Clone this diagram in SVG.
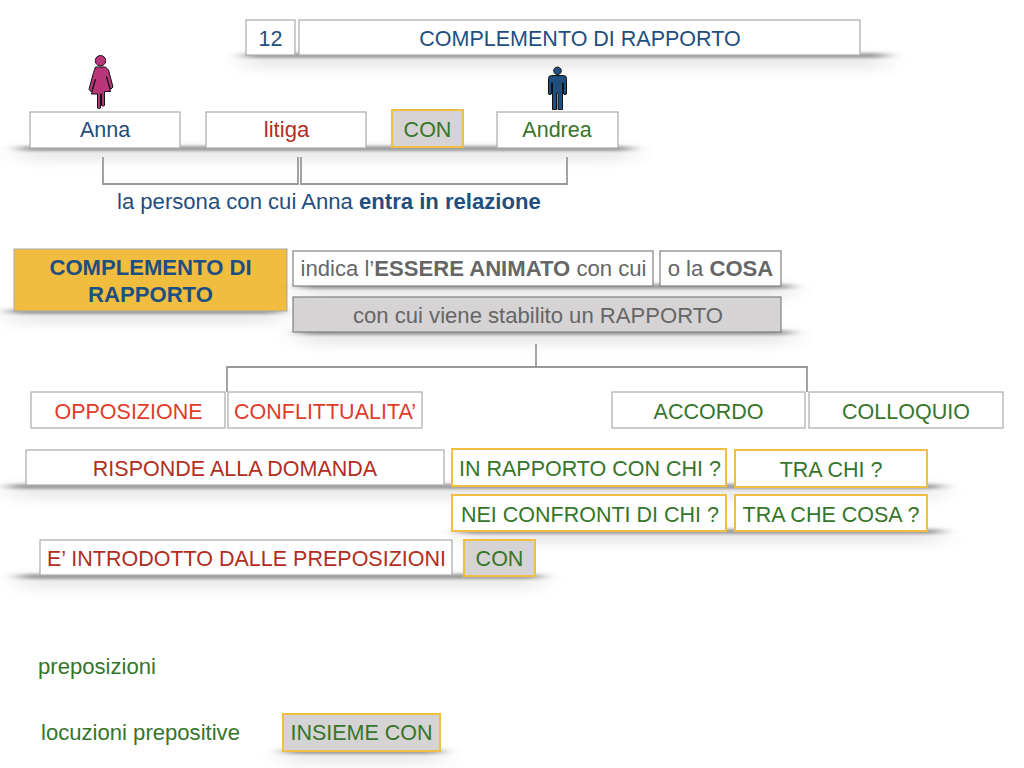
<svg xmlns="http://www.w3.org/2000/svg" width="1024" height="768" viewBox="0 0 1024 768">
<style>
text{font-family:"Liberation Sans",Arial,sans-serif;font-size:21.5px;text-anchor:middle}
.l{text-anchor:start}
.lc{font-size:22.100px}
.blue{fill:#1f4e80}.red{fill:#b32d1e}.ora{fill:#e23b2a}.grn{fill:#36752a}.gry{fill:#666}
.box{fill:#fff;stroke:#ababab;stroke-width:1.2}
.dk{fill:#fff;stroke:#808080;stroke-width:1.2}
.yel{fill:#fff;stroke:#f0bd45;stroke-width:2}
.yg{fill:#d5d3d4;stroke:#f0bd45;stroke-width:2}
.sh{fill:#444;opacity:.5;filter:url(#b)}
.sh2{fill:#666;opacity:.16;filter:url(#c)}
.con{fill:none;stroke:#999;stroke-width:1.8}
</style>
<defs>
<filter id="b" x="-20%" y="-300%" width="140%" height="700%"><feGaussianBlur stdDeviation="9 1.800"/></filter>
<filter id="c" x="-20%" y="-600%" width="140%" height="1300%"><feGaussianBlur stdDeviation="14 6"/></filter>
</defs>
<rect width="1024" height="768" fill="#fff"/>
<g id="shadows">
<rect class="sh2" x="245" y="56" width="640" height="12"/>
<rect class="sh" x="245" y="53" width="640" height="5"/>
<rect class="sh2" x="20" y="148" width="610" height="12"/>
<rect class="sh" x="20" y="146" width="610" height="5"/>
<rect class="sh2" x="10" y="311" width="270" height="12"/>
<rect class="sh" x="10" y="309" width="270" height="5"/>
<rect class="sh2" x="300" y="332" width="490" height="12"/>
<rect class="sh" x="300" y="330" width="490" height="5"/>
<rect class="sh2" x="10" y="486" width="930" height="12"/>
<rect class="sh" x="10" y="484" width="930" height="5"/>
<rect class="sh2" x="460" y="531" width="480" height="12"/>
<rect class="sh" x="460" y="529" width="480" height="5"/>
<rect class="sh2" x="20" y="576" width="520" height="12"/>
<rect class="sh" x="20" y="574" width="520" height="5"/>
<rect class="sh2" x="285" y="751" width="155" height="12"/>
<rect class="sh" x="285" y="749" width="155" height="5"/>
</g>
<g id="connectors">
<path class="con" d="M103 157V184H298V157"/>
<path class="con" d="M301 157V184H567V157"/>
<path class="con" d="M536 344V367"/>
<path class="con" d="M227 392V367H807V392"/>
</g>
<g id="n-num"><rect class="box" x="246" y="20" width="49" height="35"/><text class="blue" x="270.500" y="46">12</text></g>
<g id="n-title"><rect class="box" x="299" y="20" width="561" height="35"/><text class="blue" x="580" y="46">COMPLEMENTO DI RAPPORTO</text></g>
<g id="n-woman"><path fill="#b93478" stroke="#111" stroke-width="1" d="M100.500 55.500a5.200 5.200 0 1 1-.01 0ZM95.500 67h10l3 3 4.500 17-2.500 2.500-4-13 4 15h-6v14q-1.500 1-3 0V94h-1v14q-1.500 1-3 0V94h-6l4-15-4 13-2.500-2.500 4.500-17Z"/></g>
<g id="n-man"><path fill="#1f4e80" stroke="#111" stroke-width="1" d="M557.500 67a3.800 3.800 0 1 1-.01 0ZM551.500 75.500h12q3 0 3 3V94q-1.500 1.500-3 0V83h-1v26.500h-4.500V93h-1.500v16.500H552.500V83h-1v11q-1.500 1.500-3 0V78.500q0-3 3-3Z"/></g>
<g id="n-anna"><rect class="box" x="30" y="112" width="150" height="36"/><text class="blue" x="105" y="137">Anna</text></g>
<g id="n-litiga"><rect class="box" x="206" y="112" width="160" height="36"/><text class="red lc" x="286.500" y="137">litiga</text></g>
<g id="n-con1"><rect class="yg" x="392" y="110" width="71" height="37"/><text class="grn" x="427.500" y="137">CON</text></g>
<g id="n-andrea"><rect class="box" x="497" y="112" width="121" height="36"/><text class="grn" x="557" y="137">Andrea</text></g>
<g id="n-desc"><text class="blue l lc" x="117" y="209">la persona con cui Anna <tspan font-weight="bold">entra in relazione</tspan></text></g>
<g id="n-compl"><rect x="14" y="249" width="273" height="62" fill="#f0bd3e" stroke="#a9a9a9"/><text class="blue lc" font-weight="bold" x="150.500" y="275">COMPLEMENTO DI</text><text class="blue lc" font-weight="bold" x="150.500" y="302">RAPPORTO</text></g>
<rect class="sh" x="300" y="284" width="490" height="5"/>
<rect class="sh2" x="300" y="286" width="490" height="12"/>
<g id="n-indica"><rect class="dk" x="293" y="251" width="360" height="35"/><text class="gry lc" x="473.500" y="276">indica l’<tspan font-weight="bold">ESSERE ANIMATO</tspan> con cui</text></g>
<g id="n-cosa"><rect class="dk" x="660" y="251" width="121" height="35"/><text class="gry lc" x="720.500" y="276">o la <tspan font-weight="bold">COSA</tspan></text></g>
<g id="n-stabilito"><rect x="293" y="297" width="488" height="35" fill="#d5d3d4" stroke="#808080" stroke-width="1.200"/><text class="gry lc" x="538" y="323">con cui viene stabilito un RAPPORTO</text></g>
<g id="n-opp"><rect class="box" x="31" y="392" width="194" height="36"/><text class="ora" x="128.500" y="419">OPPOSIZIONE</text></g>
<g id="n-conf"><rect class="box" x="228" y="392" width="194" height="36"/><text class="ora" x="325" y="419">CONFLITTUALITA’</text></g>
<g id="n-acc"><rect class="box" x="612" y="392" width="193" height="36"/><text class="grn" x="708.500" y="419">ACCORDO</text></g>
<g id="n-coll"><rect class="box" x="809" y="392" width="194" height="36"/><text class="grn" x="906" y="419">COLLOQUIO</text></g>
<g id="n-risp"><rect class="box" x="26" y="450" width="418" height="35"/><text class="red" x="235" y="476">RISPONDE ALLA DOMANDA</text></g>
<g id="n-q1"><rect class="yel" x="452" y="449" width="274" height="37"/><text class="grn" x="590" y="476">IN RAPPORTO CON CHI ?</text></g>
<g id="n-q2"><rect class="yel" x="735" y="450" width="192" height="37"/><text class="grn" x="831" y="477">TRA CHI ?</text></g>
<g id="n-q3"><rect class="yel" x="452" y="495" width="274" height="36"/><text class="grn" x="590" y="522">NEI CONFRONTI DI CHI ?</text></g>
<g id="n-q4"><rect class="yel" x="735" y="495" width="192" height="36"/><text class="grn" x="831" y="522">TRA CHE COSA ?</text></g>
<g id="n-intro"><rect class="box" x="40" y="540" width="412" height="35"/><text class="red" x="246.500" y="566">E’ INTRODOTTO DALLE PREPOSIZIONI</text></g>
<g id="n-con2"><rect class="yg" x="464" y="540" width="71" height="36"/><text class="grn" x="499.500" y="566">CON</text></g>
<g id="n-prep"><text class="grn l lc" x="38" y="674">preposizioni</text></g>
<g id="n-loc"><text class="grn l lc" x="41" y="740">locuzioni prepositive</text></g>
<g id="n-insieme"><rect class="yg" x="283" y="714" width="157" height="37"/><text class="grn" x="361.500" y="740">INSIEME CON</text></g>
</svg>
